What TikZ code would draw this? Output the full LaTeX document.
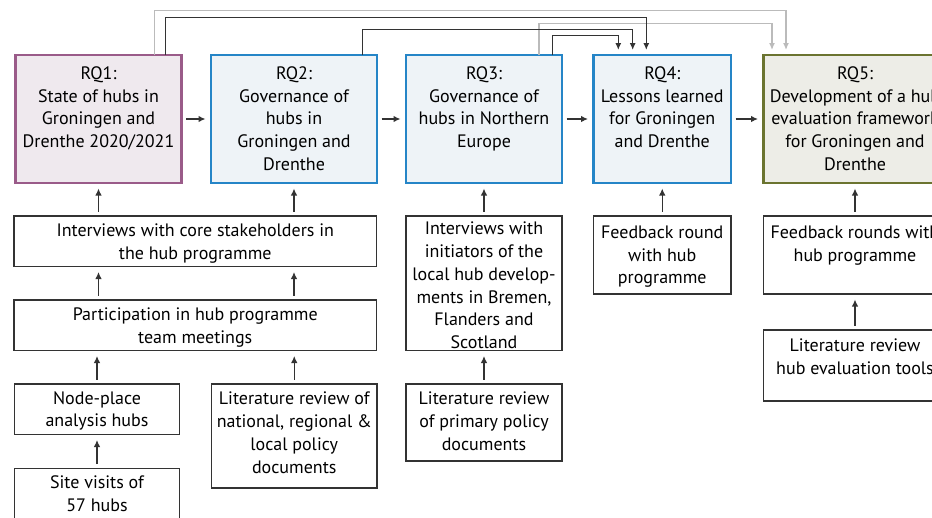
\documentclass[tikz,border=0pt]{standalone}
\usepackage{fontspec}
\setmainfont{PT Sans}
\usetikzlibrary{arrows.meta}

\definecolor{rqpurple}{HTML}{9A5B89}
\definecolor{rqpurplefill}{HTML}{EFE9EE}
\definecolor{rqblue}{HTML}{2585C7}
\definecolor{rqbluefill}{HTML}{EEF3F7}
\definecolor{rqolive}{HTML}{6B7430}
\definecolor{rqolivefill}{HTML}{EDEDE7}
\definecolor{linkgrey}{HTML}{BBBBBB}
\definecolor{linkdark}{HTML}{333333}

\tikzset{
  rq/.style={draw=#1, fill=#1fill, line width=2.4pt, inner sep=0pt, outer sep=0pt, anchor=north west},
  method/.style={draw=linkdark, fill=white, line width=1.8pt, inner sep=0pt, outer sep=0pt, anchor=north west},
  boxtext/.style={anchor=north, align=center, inner sep=0pt, font=\fontsize{18}{22.7}\selectfont},
  flow/.style={-{Latex[length=7pt,width=6.5pt]}, line width=1.2pt, draw=linkdark, shorten <=4.5pt, shorten >=5.5pt},
  backlink/.style={-{Latex[length=7pt,width=6pt]}, line width=1.3pt, draw=#1, shorten >=5pt},
}

\begin{document}
\begin{tikzpicture}[x=1pt, y=-1pt]
\useasboundingbox (0,0) rectangle (932,517);
\clip (0,0) rectangle (932,517);
\fill[white] (0,0) rectangle (932,517);

% research questions
\node (rq1) at (15.5,55)  [rq=rqpurple, minimum width=166pt, minimum height=128pt] {};
\node (rq2) at (211,55)   [rq=rqblue,   minimum width=166pt, minimum height=128pt] {};
\node (rq3) at (406,55)   [rq=rqblue,   minimum width=156pt, minimum height=128pt] {};
\node (rq4) at (593.5,55) [rq=rqblue,   minimum width=137.5pt, minimum height=128pt] {};
\node (rq5) at (763.5,55) [rq=rqolive,  minimum width=183pt, minimum height=128pt] {};

\node (rq1t) at ([yshift=-11.5pt]rq1.north) [boxtext] {RQ1:\\State of hubs in\\Groningen and\\Drenthe 2020/2021};
\node (rq2t) at ([yshift=-11.5pt]rq2.north) [boxtext] {RQ2:\\Governance of\\hubs in\\Groningen and\\Drenthe};
\node (rq3t) at ([yshift=-11.5pt]rq3.north) [boxtext] {RQ3:\\Governance of\\hubs in Northern\\Europe};
\node (rq4t) at ([yshift=-11.5pt]rq4.north) [boxtext] {RQ4:\\Lessons learned\\for Groningen\\and Drenthe};
\node (rq5t) at ([yshift=-11.5pt]rq5.north) [boxtext] {RQ5:\\Development of a hub\\evaluation framework\\for Groningen and\\Drenthe};

% methods
\node (int1)      at (14,216)    [method, minimum width=362.5pt, minimum height=50.5pt] {};
\node (part)      at (14,300)    [method, minimum width=362.5pt, minimum height=50.5pt] {};
\node (nodeplace) at (14.5,384)  [method, minimum width=165pt,   minimum height=50.5pt] {};
\node (site)      at (14.5,468.5)[method, minimum width=165pt,   minimum height=62pt] {};
\node (lit1)      at (211.5,384) [method, minimum width=165.5pt, minimum height=104pt] {};
\node (int2)      at (406,216)   [method, minimum width=156pt,   minimum height=134.5pt] {};
\node (lit2)      at (406,384)   [method, minimum width=156pt,   minimum height=77pt] {};
\node (fb1)       at (593.5,216) [method, minimum width=137.5pt, minimum height=78pt] {};
\node (fb2)       at (763.5,216) [method, minimum width=183pt,   minimum height=78pt] {};
\node (lit3)      at (763.5,330) [method, minimum width=183pt,   minimum height=71pt] {};

\node (int1t)      at ([yshift=-7.5pt]int1.north)      [boxtext] {Interviews with core stakeholders in\\the hub programme};
\node (partt)      at ([yshift=-7.5pt]part.north)      [boxtext] {Participation in hub programme\\team meetings};
\node (nodeplacet) at ([yshift=-7pt]nodeplace.north)   [boxtext] {Node-place\\analysis hubs};
\node (sitet)      at ([yshift=-7pt]site.north)        [boxtext] {Site visits of\\57 hubs};
\node (lit1t)      at ([yshift=-8pt]lit1.north)        [boxtext] {Literature review of\\national, regional \&\\local policy\\documents};
\node (int2t)      at ([yshift=-6pt]int2.north)        [boxtext] {Interviews with\\initiators of the\\local hub develop-\\ments in Bremen,\\Flanders and\\Scotland};
\node (lit2t)      at ([yshift=-8pt]lit2.north)        [boxtext] {Literature review\\of primary policy\\documents};
\node (fb1t)       at ([yshift=-9.5pt]fb1.north)       [boxtext] {Feedback round\\with hub\\programme};
\node (fb2t)       at ([yshift=-9.5pt]fb2.north)       [boxtext] {Feedback rounds with\\hub programme};
\node (lit3t)      at ([yshift=-8.5pt]lit3.north)      [boxtext] {Literature review\\hub evaluation tools};

% RQ chain
\foreach\a/\b in {rq1/rq2, rq2/rq3, rq3/rq4, rq4/rq5}
  \draw[flow] (\a.east) -- (\b.west);

% methods feeding upwards (source/target/column)
\foreach\s/\t/\c in {int1/rq1/rq1, int1/rq2/rq2, part/int1/rq1, part/int1/rq2,
                     nodeplace/part/nodeplace, lit1/part/lit1, site/nodeplace/site,
                     int2/rq3/rq3, lit2/int2/lit2, fb1/rq4/rq4, fb2/rq5/rq5, lit3/fb2/lit3}
  \draw[flow] (\s.north -| \c.center) -- (\t.south -| \c.center);

% results carried forward over the top
\draw[backlink=linkgrey] ([xshift=-27pt]rq1.north east) -- ++(0,-44.3) -| ([xshift=22.5pt]rq5.north west);
\draw[backlink=linkgrey] ([xshift=-23pt]rq3.north east) -- ++(0,-31.7) -| ([xshift=8.5pt]rq5.north west);
\draw[backlink=linkdark] ([xshift=-16.2pt]rq1.north east) -- ++(0,-37.7) -| ([xshift=52.8pt]rq4.north west);
\draw[backlink=linkdark] ([xshift=-14.3pt]rq2.north east) -- ++(0,-25.7) -| ([xshift=39.2pt]rq4.north west);
\draw[backlink=linkdark] ([xshift=-9.7pt]rq3.north east) -- ++(0,-19.7) -| ([xshift=24.8pt]rq4.north west);
\end{tikzpicture}
\end{document}
